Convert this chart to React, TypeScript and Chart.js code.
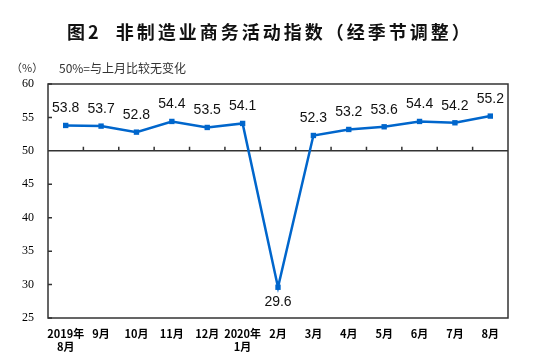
import React, { useEffect, useRef } from 'react';
import { Chart, registerables } from 'chart.js';

Chart.register(...registerables);

const categories: (string | string[])[] = [
  ['2019年', '8月'], '9月', '10月', '11月', '12月', ['2020年', '1月'],
  '2月', '3月', '4月', '5月', '6月', '7月', '8月',
];
const values = [53.8, 53.7, 52.8, 54.4, 53.5, 54.1, 29.6, 52.3, 53.2, 53.6, 54.4, 54.2, 55.2];
const yTicks = [25, 30, 35, 40, 45, 50, 55, 60];
const baseline = 50;
const title = '图2  非制造业商务活动指数（经季节调整）';
const unitLabel = '（%）';
const note = '50%=与上月比较无变化';

const BLUE = '#0066cc';
const AXIS = '#333333';

const decorPlugin = {
  id: 'decor',
  beforeDatasetsDraw(chart: any) {
    const { ctx, chartArea: a, scales } = chart;
    const x = scales.x;
    const y = scales.y;
    ctx.save();
    ctx.strokeStyle = AXIS;
    ctx.lineWidth = 1.5;
    ctx.strokeRect(a.left, a.top, a.right - a.left, a.bottom - a.top);
    const yb = y.getPixelForValue(baseline);
    ctx.beginPath();
    ctx.moveTo(a.left, yb);
    ctx.lineTo(a.right, yb);
    for (let i = 0; i < categories.length - 1; i++) {
      const xb = (x.getPixelForValue(i) + x.getPixelForValue(i + 1)) / 2;
      ctx.moveTo(xb, yb);
      ctx.lineTo(xb, yb - 4);
    }
    for (const v of yTicks) {
      const py = y.getPixelForValue(v);
      ctx.moveTo(a.left, py);
      ctx.lineTo(a.left + 4, py);
    }
    ctx.stroke();
    ctx.restore();
  },
  afterDatasetsDraw(chart: any) {
    const { ctx } = chart;
    const meta = chart.getDatasetMeta(0);
    ctx.save();
    ctx.fillStyle = '#111';
    ctx.font = '14px "Liberation Sans", Arial, sans-serif';
    ctx.textAlign = 'center';
    ctx.textBaseline = 'middle';
    meta.data.forEach((pt: any, i: number) => {
      const v = values[i];
      const dy = v < baseline ? 15 : -17;
      ctx.fillText(v.toFixed(1), pt.x, pt.y + dy);
    });
    // title
    ctx.fillStyle = '#111';
    ctx.textAlign = 'left';
    ctx.font = 'bold 18px "Noto Sans CJK SC", sans-serif';
    (ctx as any).letterSpacing = '3px';
    ctx.fillText(title, 67, 32);
    (ctx as any).letterSpacing = '0px';
    ctx.font = '11px "Noto Sans CJK SC", sans-serif';
    ctx.fillStyle = '#333';
    ctx.fillText(unitLabel, 11, 68);
    ctx.font = '12px "Noto Sans CJK SC", sans-serif';
    ctx.fillText(note, 59, 68);
    ctx.restore();
  },
};

export default function App() {
  const ref = useRef<HTMLCanvasElement | null>(null);
  useEffect(() => {
    document.body.style.margin = '0';
    if (!ref.current) return;
    const chart = new Chart(ref.current, {
      type: 'line',
      data: {
        labels: categories,
        datasets: [
          {
            data: values,
            borderColor: BLUE,
            backgroundColor: BLUE,
            borderWidth: 2.5,
            pointStyle: 'rect',
            pointRadius: 3.8,
            pointBackgroundColor: BLUE,
            pointBorderColor: BLUE,
            pointBorderWidth: 0,
            tension: 0,
          },
        ],
      },
      options: {
        responsive: false,
        animation: false,
        layout: { padding: { top: 84, right: 45, left: 0, bottom: 0 } },
        plugins: {
          legend: { display: false },
          tooltip: { enabled: false },
          title: { display: false },
        },
        scales: {
          x: {
            type: 'category',
            offset: true,
            grid: { display: false, drawTicks: false },
            border: { display: false },
            ticks: {
              autoSkip: false,
              maxRotation: 0,
              minRotation: 0,
              padding: 9,
              color: '#000',
              font: { family: '"Noto Sans CJK SC", sans-serif', size: 11, weight: 'bold' },
            },
            afterFit: (s: any) => { s.height = 44; },
          },
          y: {
            min: 25,
            max: 60,
            grid: { display: false, drawTicks: false },
            border: { display: false },
            afterBuildTicks: (s: any) => { s.ticks = yTicks.map((v) => ({ value: v })); },
            ticks: {
              padding: 14,
              color: '#000',
              font: { family: '"Liberation Serif", serif', size: 12 },
            },
            afterFit: (s: any) => { s.width = 48; },
          },
        },
      },
      plugins: [decorPlugin],
    });
    return () => chart.destroy();
  }, []);
  return (
    <div style={{ position: 'absolute', left: 0, top: 0, width: 553, height: 362, background: '#fff' }}>
      <canvas ref={ref} width={553} height={362} style={{ width: 553, height: 362 }} />
    </div>
  );
}
